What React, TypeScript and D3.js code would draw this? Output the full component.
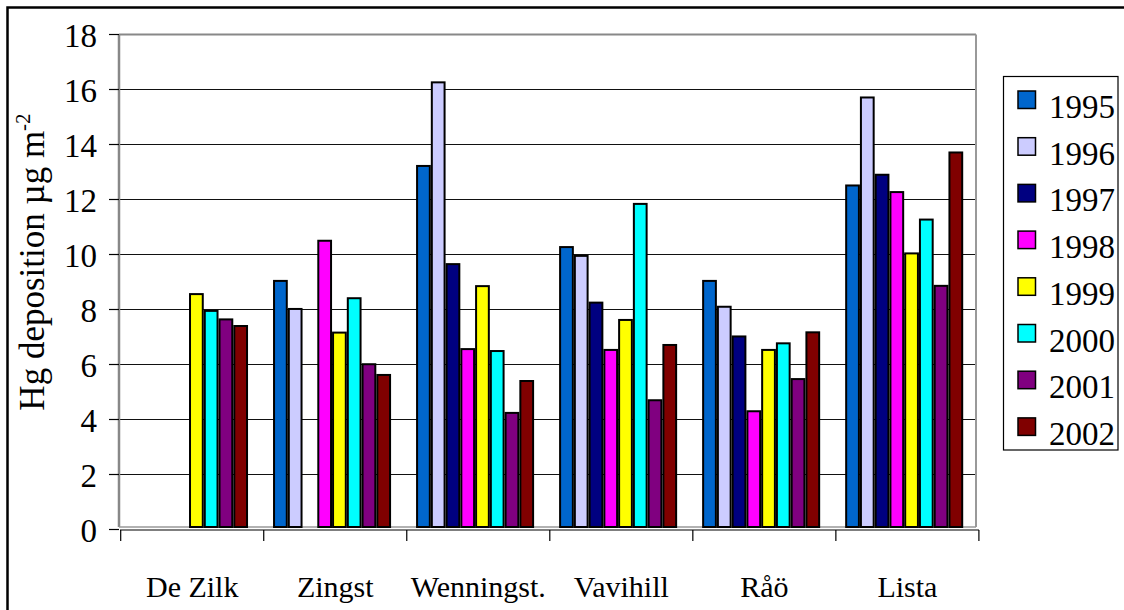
import React from "react";
import * as d3 from "d3";

const sites = ["De Zilk", "Zingst", "Wenningst.", "Vavihill", "Råö", "Lista"];
const years = ["1995", "1996", "1997", "1998", "1999", "2000", "2001", "2002"];
const colors = ["#0066CC", "#CCCCFF", "#000080", "#FF00FF", "#FFFF00", "#00FFFF", "#800080", "#800000"];

// values per year, one per site (null = no data)
const y1995 = [null, 9.04, 13.22, 10.27, 9.04, 12.51];
const y1996 = [null, 8.02, 16.26, 9.95, 8.1, 15.71];
const y1997 = [null, null, 9.65, 8.25, 7.02, 12.9];
const y1998 = [null, 10.5, 6.56, 6.53, 4.3, 12.27];
const y1999 = [8.56, 7.16, 8.85, 7.62, 6.53, 10.04];
const y2000 = [7.95, 8.41, 6.49, 11.84, 6.77, 11.27];
const y2001 = [7.64, 6.01, 4.24, 4.7, 5.47, 8.86];
const y2002 = [7.4, 5.62, 5.4, 6.71, 7.17, 13.71];
const series = [y1995, y1996, y1997, y1998, y1999, y2000, y2001, y2002];

const yTicks = [0, 2, 4, 6, 8, 10, 12, 14, 16, 18];

const FONT = "Liberation Serif";

export default function App() {
  const W = 1124, H = 610;
  const y = d3.scaleLinear().domain([0, 18]).range([529.5, 34.5]);
  const floorY = 527;
  const xWall = d3.scaleBand<string>().domain(sites).range([117.5, 975.7]);
  const xAxis = d3.scaleBand<string>().domain(sites).range([120.7, 978.9]);
  const inner = d3.scaleBand<string>().domain(years).range([12.5, xWall.bandwidth() - 12.5]);
  const ts = { fontFamily: FONT } as React.CSSProperties;

  return (
    <svg width={W} height={H} style={{ position: "absolute", left: 0, top: 0, background: "#fff", fontFamily: FONT }}>
      <rect x={0} y={0} width={W} height={H} fill="#fff" />
      {/* outer frame */}
      <rect x={7.5} y={7.5} width={1300} height={800} fill="none" stroke="#000" strokeWidth={2.5} />

      {/* gridlines */}
      {yTicks.filter((t) => t > 0 && t < 18).map((t) => (
        <line key={t} x1={109} x2={976} y1={y(t)} y2={y(t)} stroke="#111" strokeWidth={1.2} />
      ))}
      {/* plot walls */}
      <line x1={119} x2={976} y1={y(18)} y2={y(18)} stroke="#888" strokeWidth={2} />
      <line x1={976} x2={976} y1={y(18)} y2={floorY} stroke="#999" strokeWidth={2} />
      <line x1={119} x2={119} y1={y(18)} y2={floorY} stroke="#888" strokeWidth={2.5} />
      <line x1={119} x2={976} y1={floorY} y2={floorY} stroke="#999" strokeWidth={1.5} />
      {yTicks.map((t) => (
        <line key={"t" + t} x1={109} x2={119} y1={y(t)} y2={y(t)} stroke="#000" strokeWidth={1.2} />
      ))}

      {/* bars */}
      {series.map((vals, si) =>
        vals.map((v, ci) =>
          v == null ? null : (
            <rect
              key={si + "-" + ci}
              x={(xWall(sites[ci]) as number) + (inner(years[si]) as number) + 1}
              y={y(v)}
              width={inner.bandwidth() - 2}
              height={floorY - y(v)}
              fill={colors[si]}
              stroke="#000"
              strokeWidth={2}
            />
          )
        )
      )}

      {/* x axis */}
      <line x1={120} x2={979} y1={530} y2={530} stroke="#000" strokeWidth={1.2} />
      {sites.map((s) => (
        <line key={"xt" + s} x1={xAxis(s) as number} x2={xAxis(s) as number} y1={530} y2={541} stroke="#000" strokeWidth={1.2} />
      ))}
      <line x1={978.9} x2={978.9} y1={530} y2={541} stroke="#000" strokeWidth={1.2} />
      {sites.map((s) => (
        <text key={"xl" + s} style={ts} x={(xAxis(s) as number) + xAxis.bandwidth() / 2} y={597} textAnchor="middle" fontSize={30}>
          {s}
        </text>
      ))}

      {/* y tick labels */}
      {yTicks.map((t) => (
        <text key={"yl" + t} style={ts} x={97} y={y(t) + 12} textAnchor="end" fontSize={33}>
          {t}
        </text>
      ))}

      {/* y title */}
      <text style={ts} transform="translate(44,262) rotate(-90)" textAnchor="middle" fontSize={35}>
        Hg deposition µg m<tspan dy={-14} fontSize={21}>-2</tspan>
      </text>

      {/* legend */}
      <rect x={1003.5} y={76.5} width={114.5} height={373.5} fill="#fff" stroke="#000" strokeWidth={1.2} />
      {years.map((yr, i) => (
        <g key={"lg" + yr} transform={`translate(0,${91 + i * 46.7})`}>
          <rect x={1018} y={0} width={17.5} height={17.5} fill={colors[i]} stroke="#000" strokeWidth={1.5} />
          <text style={ts} x={1049} y={27} fontSize={33}>
            {yr}
          </text>
        </g>
      ))}
    </svg>
  );
}
